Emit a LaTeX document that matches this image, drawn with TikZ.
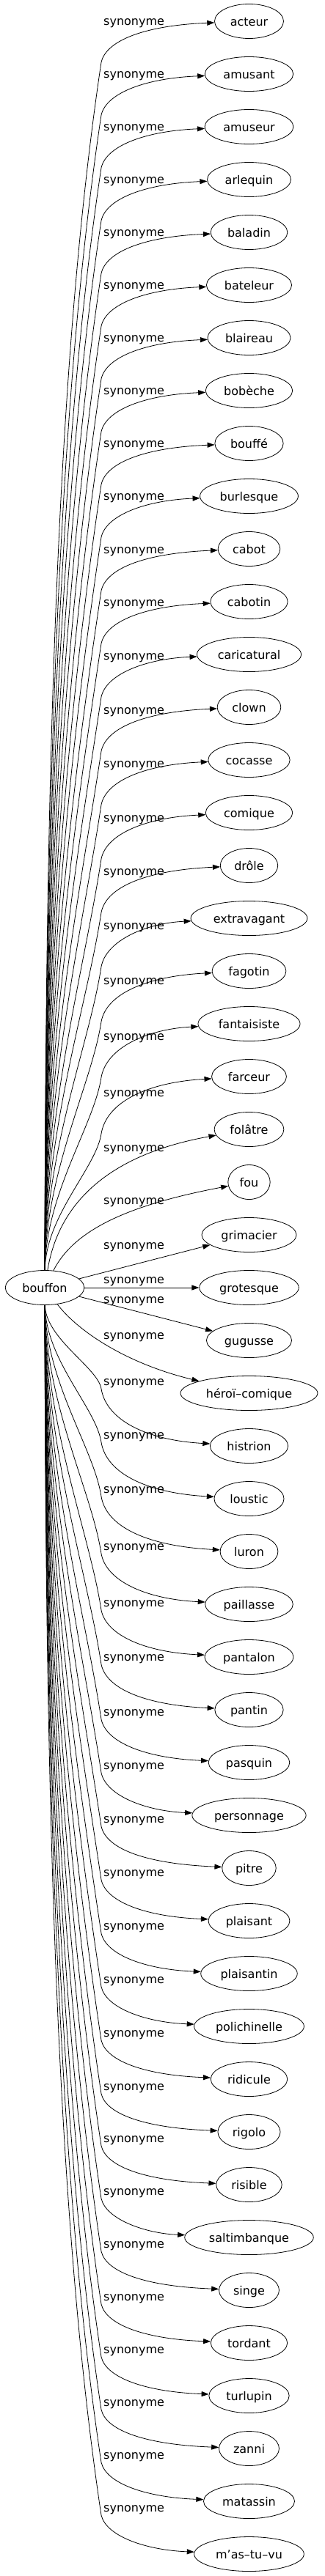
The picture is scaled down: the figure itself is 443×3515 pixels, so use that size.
\documentclass[tikz,border=0pt]{standalone}
\usepackage{fontspec}
\setmainfont{DejaVu Sans}
\usetikzlibrary{arrows.meta,calc,shapes.geometric}
\tikzset{
  word/.style={draw, ellipse, line width=0.8pt, inner xsep=7.5pt, minimum height=47pt,
    text height=12pt, text depth=0pt, font=\fontsize{16}{19}\selectfont},
  syn/.style={anchor=base west, inner sep=0pt, font=\fontsize{16}{19}\selectfont},
  rel/.style={line width=0.8pt, -{Triangle[length=10pt,width=7pt]}}
}

\begin{document}
\begin{tikzpicture}[x=1pt,y=-1pt]
  \useasboundingbox (0,0) rectangle (443,3515);
  \node[word] (bouffon) at (61,1757) {bouffon};
  % words on the right, label y offset from the word
  \foreach \w/\o [count=\i from 0] in {acteur/0, amusant/0, amuseur/0, arlequin/0,
      baladin/0, bateleur/0, blaireau/0, bobèche/0, bouffé/0, burlesque/0, cabot/1,
      cabotin/1, caricatural/2, clown/4, cocasse/5, comique/7, drôle/8, extravagant/10,
      fagotin/13, fantaisiste/17, farceur/22, folâtre/25, fou/25, grimacier/14,
      grotesque/-11, gugusse/-56, héroï–comique/-79, histrion/-88, loustic/-87,
      luron/-85, paillasse/-79, pantalon/-74, pantin/-72, pasquin/-69, personnage/-68,
      pitre/-67, plaisant/-66, plaisantin/-65, polichinelle/-64, ridicule/-63,
      rigolo/-62, risible/-63, saltimbanque/-63, singe/-63, tordant/-63, turlupin/-63,
      zanni/-63, matassin/-63, m'as–tu–vu/-63} {
    \node[word] (t\i) at (339.5,{29+72*\i}) {\w};
    \node[syn] (s\i) at (141,{29+72*\i+(\o)+5}) {synonyme};
  }
  % upper fan
  \foreach \i/\o in {0/0, 1/0, 2/0, 3/0, 4/0, 5/0, 6/0, 7/0, 8/0, 9/0, 10/1, 11/1,
      12/2, 13/4, 14/5, 15/7, 16/8, 17/10, 18/13, 19/17, 20/22} {
    \pgfmathsetmacro\ty{29+72*\i}
    \pgfmathsetmacro\ky{\ty+\o+56}
    \pgfmathsetmacro\u{0.25*(1733-\ky)}
    \draw[rel] (bouffon) .. controls (62,{1733-0.4*(1733-\ky)}) and ({138-0.15*\u},{\ky+\u})
      .. (138,\ky) .. controls (145,{\ky-0.55*(\ky-\ty)}) and (200,{\ty+0.1*(\ky-\ty)}) .. (t\i);
  }
  % middle
  \draw[rel] (bouffon) .. controls (80,1640) and (150,1575) .. (t21);
  \draw[rel] (bouffon) .. controls (100,1680) and (170,1645) .. (t22);
  \draw[rel] (bouffon) -- (t23);
  \draw[rel] (bouffon) -- (t24);
  \draw[rel] (bouffon) -- (t25);
  \draw[rel] (bouffon) .. controls (105,1815) and (170,1860) .. (t26);
  % lower fan
  \foreach \i/\o in {27/-88, 28/-87, 29/-85, 30/-79, 31/-74, 32/-72, 33/-69, 34/-68,
      35/-67, 36/-66, 37/-65, 38/-64, 39/-63, 40/-62, 41/-63, 42/-63, 43/-63, 44/-63,
      45/-63, 46/-63, 47/-63, 48/-63} {
    \pgfmathsetmacro\ty{29+72*\i}
    \pgfmathsetmacro\ky{\ty+\o+10}
    \pgfmathsetmacro\u{0.25*(\ky-1781)}
    \draw[rel] (bouffon) .. controls (62,{1781+0.4*(\ky-1781)}) and ({138-0.15*\u},{\ky-\u})
      .. (138,\ky) .. controls (145,{\ky+0.55*(\ty-\ky)}) and (200,{\ty-0.1*(\ty-\ky)}) .. (t\i);
  }
\end{tikzpicture}
\end{document}
